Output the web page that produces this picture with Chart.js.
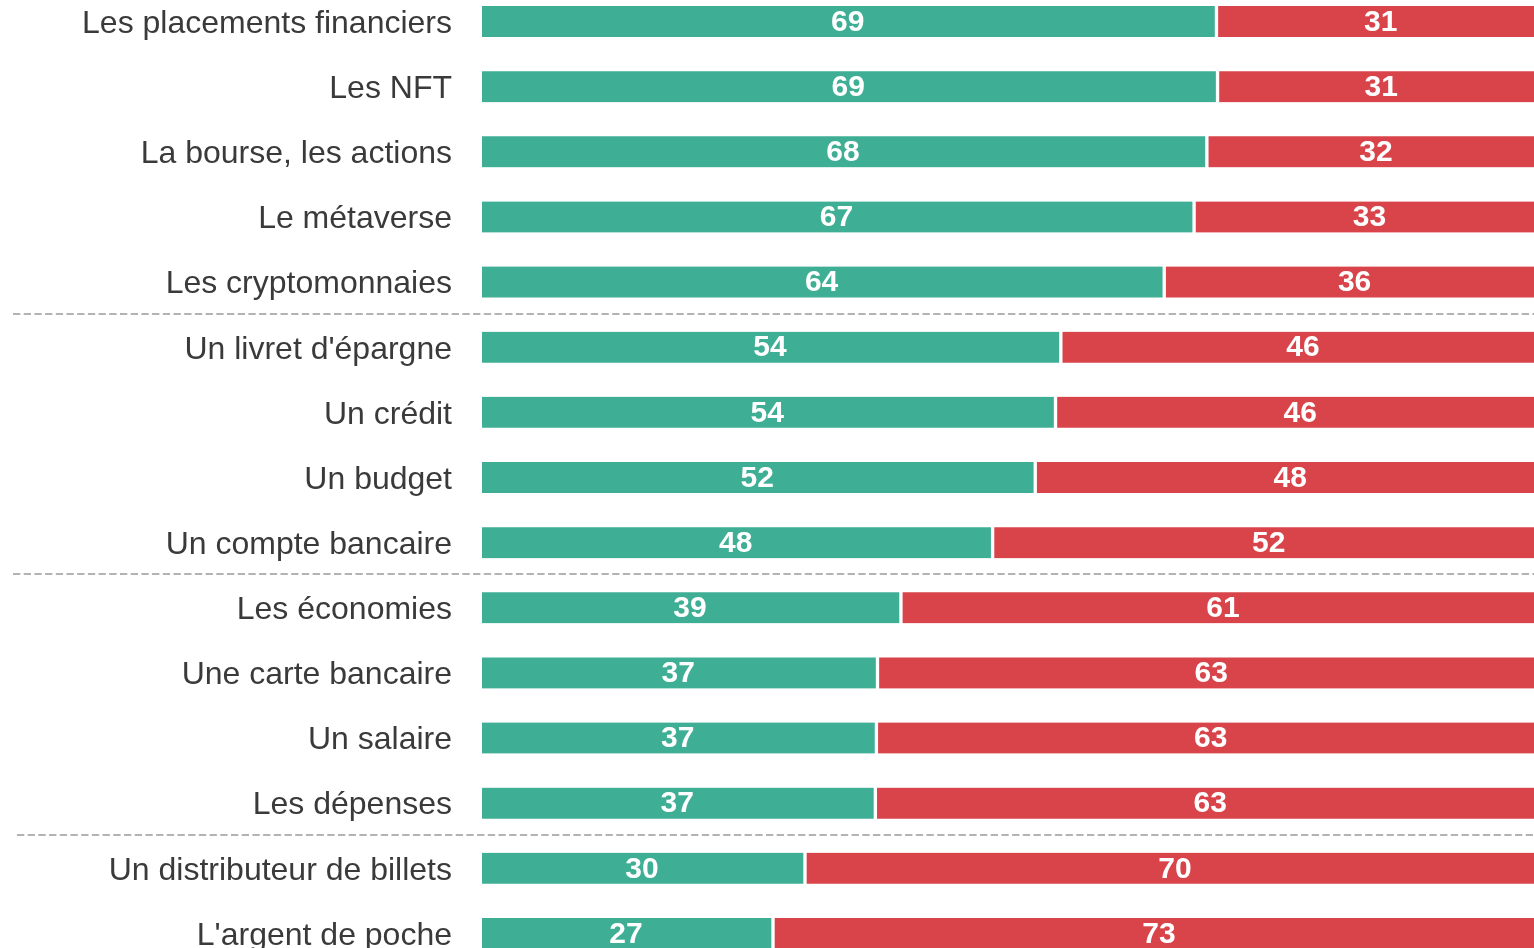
<!DOCTYPE html>
<html>
<head>
<meta charset="utf-8">
<script src="https://cdn.jsdelivr.net/npm/chart.js@4"></script>
<style>
  html, body { margin: 0; padding: 0; background: #ffffff; overflow: hidden; width: 1534px; height: 948px; }
  #wrap { position: absolute; left: 0; top: -11px; width: 1548px; height: 977px; }
</style>
</head>
<body>
<div id="wrap"><canvas id="c" width="1548" height="977"></canvas></div>
<script>
const categories = [
  "Les placements financiers",
  "Les NFT",
  "La bourse, les actions",
  "Le métaverse",
  "Les cryptomonnaies",
  "Un livret d'épargne",
  "Un crédit",
  "Un budget",
  "Un compte bancaire",
  "Les économies",
  "Une carte bancaire",
  "Un salaire",
  "Les dépenses",
  "Un distributeur de billets",
  "L'argent de poche"
];
const greenValues = [68.9, 69.0, 68.0, 66.8, 64.0, 54.3, 53.8, 51.9, 47.9, 39.3, 37.1, 37.0, 36.9, 30.3, 27.3];
const redValues   = [31.1, 31.0, 32.0, 33.2, 36.0, 45.7, 46.2, 48.1, 52.1, 60.7, 62.9, 63.0, 63.1, 69.7, 72.7];
const groupSeparatorsAfter = [4, 8, 12];
const separatorStartX = [13, 13, 17];

const GREEN = '#3eae94';
const RED = '#d8444a';
const FONT = "'Liberation Sans', Arial, Helvetica, sans-serif";

const valueLabels = {
  id: 'valueLabels',
  afterDatasetsDraw(chart) {
    const ctx = chart.ctx;
    ctx.save();
    ctx.fillStyle = '#ffffff';
    ctx.font = 'bold 30px ' + FONT;
    ctx.textAlign = 'center';
    ctx.textBaseline = 'middle';
    chart.data.datasets.forEach((ds, di) => {
      const meta = chart.getDatasetMeta(di);
      meta.data.forEach((bar, i) => {
        const p = bar.getProps(['x', 'y', 'base'], true);
        const cx = (p.x + p.base) / 2 - 1.5;
        ctx.fillText(String(Math.round(ds.data[i])), cx, p.y + 1);
      });
    });
    ctx.restore();
  }
};

const separators = {
  id: 'separators',
  beforeDatasetsDraw(chart) {
    const ctx = chart.ctx;
    const y = chart.scales.y;
    ctx.save();
    ctx.strokeStyle = '#b3b3b3';
    ctx.lineWidth = 2;
    ctx.setLineDash([7.3, 3.4]);
    groupSeparatorsAfter.forEach((idx, k) => {
      const yy = Math.round((y.getPixelForValue(idx) + y.getPixelForValue(idx + 1)) / 2) - 1;
      ctx.beginPath();
      ctx.moveTo(separatorStartX[k], yy);
      ctx.lineTo(chart.width, yy);
      ctx.stroke();
    });
    ctx.restore();
  }
};

new Chart(document.getElementById('c'), {
  type: 'bar',
  data: {
    labels: categories,
    datasets: [
      {
        data: greenValues,
        backgroundColor: GREEN,
        borderColor: '#ffffff',
        borderWidth: { top: 0, bottom: 0, left: 0, right: 2 },
        borderSkipped: false,
        barThickness: 31
      },
      {
        data: redValues,
        backgroundColor: RED,
        borderColor: '#ffffff',
        borderWidth: { top: 0, bottom: 0, left: 2, right: 0 },
        borderSkipped: false,
        barThickness: 31
      }
    ]
  },
  options: {
    indexAxis: 'y',
    responsive: false,
    animation: false,
    devicePixelRatio: 1,
    layout: { padding: 0 },
    plugins: {
      legend: { display: false },
      tooltip: { enabled: false },
      title: { display: false }
    },
    scales: {
      x: {
        stacked: true,
        display: false,
        min: 0,
        max: 100
      },
      y: {
        stacked: true,
        afterFit(scale) {
          scale.width = 482;
          scale.paddingTop = 0;
          scale.paddingBottom = 0;
        },
        grid: { display: false, drawTicks: false },
        border: { display: false },
        ticks: {
          padding: 30,
          labelOffset: 2.5,
          color: '#3a3a3a',
          font: { family: FONT, size: 32 }
        }
      }
    }
  },
  plugins: [separators, valueLabels]
});
</script>
</body>
</html>
